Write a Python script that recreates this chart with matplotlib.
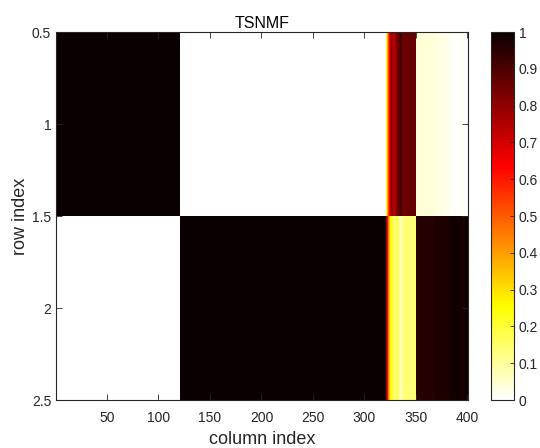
import numpy as np
import matplotlib
matplotlib.use("Agg")
import matplotlib.pyplot as plt

plt.rcParams['font.family'] = ['Liberation Sans', 'DejaVu Sans']

# values, per column (1..400)
row1_trans = [0.22, 0.38, 0.52, 0.64, 0.74, 0.80, 0.78, 0.76, 0.74, 0.77,
              0.82, 0.84, 0.86, 0.89, 0.92, 0.90, 0.86, 0.84, 0.85, 0.85,
              0.86, 0.86, 0.86, 0.86, 0.86, 0.86, 0.86, 0.86, 0.86, 0.86]
row1_tail = [0.04] * 18 + [0.03] * 11 + [0.02] * 4 + [0.005] * 11 + [0.015] * 3 + [0.0] * 3
row1 = [1.0] * 120 + [0.0] * 200 + row1_trans + row1_tail

row2_trans = [0.80, 0.62, 0.47, 0.34, 0.26, 0.21, 0.20, 0.16, 0.13, 0.15,
              0.19, 0.17, 0.13, 0.10, 0.06, 0.07, 0.10, 0.14, 0.14, 0.14,
              0.14, 0.14, 0.14, 0.14, 0.14, 0.14, 0.14, 0.14, 0.14, 0.14]
row2_tail = [0.96] * 18 + [0.97] * 15 + [0.985] * 11 + [0.98] * 3 + [1.0] * 3
row2 = [0.0] * 120 + [1.0] * 200 + row2_trans + row2_tail

data = np.array([row1, row2])

xticks = [50, 100, 150, 200, 250, 300, 350, 400]
yticks = [0.5, 1, 1.5, 2, 2.5]
cticks = [0, 0.1, 0.2, 0.3, 0.4, 0.5, 0.6, 0.7, 0.8, 0.9, 1]

fig = plt.figure(figsize=(5.4, 4.48), dpi=100)
ax = fig.add_axes([56 / 540, 1 - 400 / 448, 412 / 540, 368 / 448])
im = ax.imshow(data, cmap='hot_r', vmin=0, vmax=1, aspect='auto',
               interpolation='nearest', extent=[0.5, 400.5, 2.5, 0.5])

c = '#262626'
ax.set_xticks(xticks)
ax.set_yticks(yticks)
ax.set_yticklabels(['0.5', '1', '1.5', '2', '2.5'])
ax.tick_params(direction='in', top=True, right=True, labelsize=10,
               colors=c, length=4, width=0.6)
ax.tick_params(axis='x', pad=8)
for s in ax.spines.values():
    s.set_color(c)
    s.set_linewidth(0.8)
ax.set_xlabel('column index', fontsize=13, color=c, labelpad=4)
ax.set_ylabel('row index', fontsize=13, color=c, labelpad=2)
ax.set_title('TSNMF', fontsize=11.5, color='black', pad=3)

cax = fig.add_axes([491 / 540, 1 - 400 / 448, 23 / 540, 368 / 448])
cb = fig.colorbar(im, cax=cax, ticks=cticks)
cb.ax.set_yticklabels(['0', '0.1', '0.2', '0.3', '0.4', '0.5', '0.6',
                       '0.7', '0.8', '0.9', '1'])
cb.ax.tick_params(direction='in', labelsize=10, colors=c, length=3, width=0.6)
cb.outline.set_edgecolor(c)
cb.outline.set_linewidth(0.8)

fig.savefig('out.png', dpi=100)
